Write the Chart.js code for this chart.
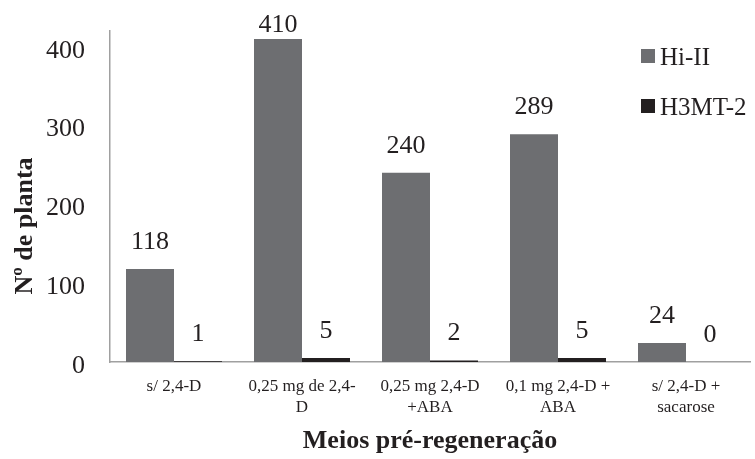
<!DOCTYPE html>
<html lang="pt">

<head>
    <meta charset="UTF-8">
    <title>Meios pré-regeneração</title>
    <script src="https://cdn.jsdelivr.net/npm/chart.js"></script>
    <style>
        html, body { margin: 0; padding: 0; background: #fff; }
        #wrap { width: 755px; height: 459px; }
    </style>
</head>

<body>
    <div id="wrap"><canvas id="plantChart"></canvas></div>

    <script>
        // chart data
        const categories = [
            ["s/ 2,4-D"],
            ["0,25 mg de 2,4-", "D"],
            ["0,25 mg 2,4-D", "+ABA"],
            ["0,1 mg 2,4-D +", "ABA"],
            ["s/ 2,4-D +", "sacarose"]
        ];
        const hiII = [118, 410, 240, 289, 24];
        const h3mt2 = [1, 5, 2, 5, 0];
        const yTicks = [0, 100, 200, 300, 400];

        const serif = "'Liberation Serif', 'Times New Roman', serif";

        // value labels above each bar
        const valueLabels = {
            id: "valueLabels",
            afterDatasetsDraw(chart) {
                const ctx = chart.ctx;
                ctx.save();
                ctx.font = "26px " + serif;
                ctx.fillStyle = "#231f20";
                ctx.textAlign = "center";
                ctx.textBaseline = "middle";
                chart.data.datasets.forEach((ds, i) => {
                    chart.getDatasetMeta(i).data.forEach((bar, j) => {
                        const y = Math.max(bar.y - 27, 25);
                        ctx.fillText(ds.data[j], bar.x, y);
                    });
                });
                ctx.restore();
            }
        };

        // legend sitting inside the plot, top right
        const sideLegend = {
            id: "sideLegend",
            afterDraw(chart) {
                const ctx = chart.ctx;
                ctx.save();
                ctx.font = "25px " + serif;
                ctx.textBaseline = "middle";
                chart.data.datasets.forEach((ds, i) => {
                    const cy = 56 + i * 50;
                    ctx.fillStyle = ds.backgroundColor;
                    ctx.fillRect(641, cy - 7, 14, 14);
                    ctx.fillStyle = "#231f20";
                    ctx.fillText(ds.label, 660, cy + 2);
                });
                ctx.restore();
            }
        };

        // y axis title, placed like the original (not centred on the axis)
        const yTitle = {
            id: "yTitle",
            afterDraw(chart) {
                const ctx = chart.ctx;
                ctx.save();
                ctx.translate(25, 226);
                ctx.rotate(-Math.PI / 2);
                ctx.font = "bold 26px " + serif;
                ctx.fillStyle = "#231f20";
                ctx.textAlign = "center";
                ctx.textBaseline = "middle";
                ctx.fillText("Nº de planta", 0, 0);
                ctx.restore();
            }
        };

        const ctx = document.getElementById("plantChart").getContext("2d");
        new Chart(ctx, {
            type: "bar",
            data: {
                labels: categories,
                datasets: [
                    { label: "Hi-II", data: hiII, backgroundColor: "#6d6e71" },
                    { label: "H3MT-2", data: h3mt2, backgroundColor: "#231f20" }
                ]
            },
            options: {
                responsive: true,
                maintainAspectRatio: false,
                animation: false,
                categoryPercentage: 0.75,
                barPercentage: 1,
                layout: { padding: { left: 0, right: 5, top: 31, bottom: 0 } },
                plugins: {
                    legend: { display: false },
                    tooltip: { enabled: false }
                },
                scales: {
                    x: {
                        grid: { display: false, drawTicks: false },
                        border: { display: true, color: "#a0a0a0", width: 1.5 },
                        ticks: {
                            color: "#231f20",
                            font: { family: serif, size: 17, lineHeight: 1.18 },
                            padding: 15,
                            maxRotation: 0,
                            autoSkip: false
                        },
                        title: {
                            display: true,
                            text: "Meios pré-regeneração",
                            color: "#231f20",
                            font: { family: serif, size: 26, weight: "bold" },
                            padding: { top: 0, bottom: 2 }
                        },
                        afterFit: s => { s.height = 97; }
                    },
                    y: {
                        min: 0,
                        max: 420,
                        // hidden tick marks only used to space the labels off the axis
                        grid: { display: false, drawTicks: true, tickLength: 25 },
                        border: { display: true, color: "#a0a0a0", width: 1.5 },
                        ticks: {
                            color: "#231f20",
                            font: { family: serif, size: 26 },
                            padding: 0,
                            labelOffset: 4
                        },
                        afterBuildTicks: s => { s.ticks = yTicks.map(v => ({ value: v })); },
                        afterFit: s => { s.width = 110; }
                    }
                }
            },
            plugins: [valueLabels, sideLegend, yTitle]
        });
    </script>
</body>

</html>
